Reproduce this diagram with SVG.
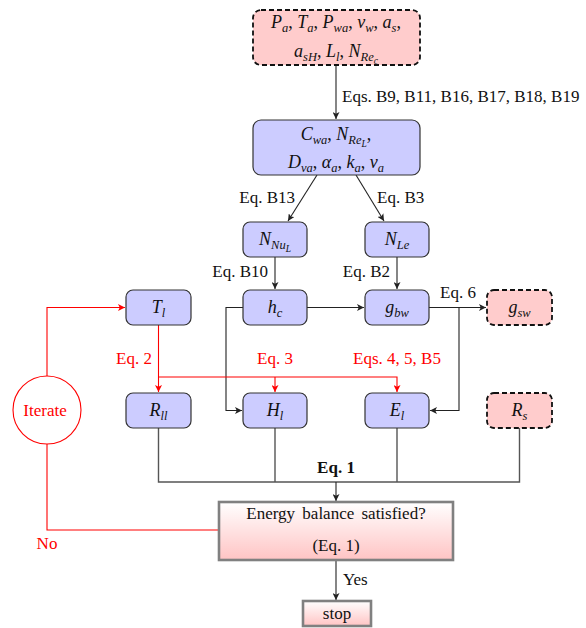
<svg xmlns="http://www.w3.org/2000/svg" width="586" height="628" viewBox="0 0 586 628">
<style>
text{font-family:'Liberation Serif','Times New Roman',Tinos,Times,'DejaVu Serif','Noto Serif',serif}
.m{font-style:italic;font-size:18px;text-anchor:middle;fill:#111}
.s{font-size:12.5px}
.ss{font-size:9.5px}
.n{font-style:normal}
.lab{font-size:17px;fill:#111}
.rl{fill:#ff0000}
.bn{fill:#ccccff;stroke:#333;stroke-width:1.2}
.pn{fill:#ffcccc;stroke:#111;stroke-width:1.8;stroke-dasharray:5 3}
.e{fill:none;stroke:#222;stroke-width:1.1}
.eg{fill:none;stroke:#555;stroke-width:1.4}
.er{fill:none;stroke:#ff0000;stroke-width:1.1}
.gb{fill:url(#grad);stroke:#808080;stroke-width:2.6}
</style>
<defs>
<marker id="ab" viewBox="0 0 10 10" refX="10" refY="5" markerWidth="7" markerHeight="7" markerUnits="userSpaceOnUse" orient="auto"><path d="M0,0 L10,5 L0,10 L2.5,5 z" fill="#222"/></marker>
<marker id="ar" viewBox="0 0 10 10" refX="10" refY="5" markerWidth="7" markerHeight="7" markerUnits="userSpaceOnUse" orient="auto"><path d="M0,0 L10,5 L0,10 L2.5,5 z" fill="#ff0000"/></marker>
<linearGradient id="grad" x1="0" y1="0" x2="0" y2="1"><stop offset="0" stop-color="#ffffff"/><stop offset="1" stop-color="#ffc4c4"/></linearGradient>
</defs>

<g id="connectors">
<line class="e" x1="336" y1="65" x2="336" y2="119" marker-end="url(#ab)"/>
<line class="e" x1="317" y1="175" x2="288" y2="221" marker-end="url(#ab)"/>
<line class="e" x1="356" y1="175" x2="384" y2="221" marker-end="url(#ab)"/>
<line class="e" x1="275" y1="257" x2="275" y2="289" marker-end="url(#ab)"/>
<line class="e" x1="397" y1="257" x2="397" y2="289" marker-end="url(#ab)"/>
<line class="e" x1="307" y1="307.5" x2="364" y2="307.5" marker-end="url(#ab)"/>
<path class="e" d="M243,307.5 H226 V410.5 H242" marker-end="url(#ab)"/>
<line class="e" x1="429" y1="307.5" x2="486" y2="307.5" marker-end="url(#ab)"/>
<path class="e" d="M459,307.5 V410.5 H430" marker-end="url(#ab)"/>
<path class="er" d="M47,376 V307.5 H125" marker-end="url(#ar)"/>
<path class="er" d="M158.5,325 V392" marker-end="url(#ar)"/>
<path class="er" d="M158.5,377 H397 V392" marker-end="url(#ar)"/>
<path class="er" d="M275,377 V392" marker-end="url(#ar)"/>
<path class="eg" d="M158.5,428 V482 H519.5 V428"/>
<path class="eg" d="M275,428 V482"/>
<path class="eg" d="M397,428 V482"/>
<path class="e" d="M336,482 V501" marker-end="url(#ab)"/>
<path class="e" d="M336,560 V600" marker-end="url(#ab)"/>
<path class="er" d="M219,530 H47 V444"/>
<text class="lab" x="342" y="102">Eqs. B9, B11, B16, B17, B18, B19</text>
<text class="lab" x="295" y="203" text-anchor="end">Eq. B13</text>
<text class="lab" x="377" y="203">Eq. B3</text>
<text class="lab" x="268" y="277" text-anchor="end">Eq. B10</text>
<text class="lab" x="390" y="277" text-anchor="end">Eq. B2</text>
<text class="lab" x="440" y="298">Eq. 6</text>
<text class="lab rl" x="152" y="364" text-anchor="end">Eq. 2</text>
<text class="lab rl" x="275" y="364" text-anchor="middle">Eq. 3</text>
<text class="lab rl" x="397" y="364" text-anchor="middle">Eqs. 4, 5, B5</text>
<text class="lab" x="336" y="473" text-anchor="middle" font-weight="bold">Eq. 1</text>
<text class="lab" x="343" y="585">Yes</text>
<text class="lab rl" x="47" y="549" text-anchor="middle">No</text>
</g>

<g id="inputs">
<rect class="pn" x="253" y="10" width="167" height="55" rx="8"/>
<text class="m" x="336" y="28">P<tspan class="s" dy="4">a</tspan><tspan class="n" dy="-4">, </tspan>T<tspan class="s" dy="4">a</tspan><tspan class="n" dy="-4">, </tspan>P<tspan class="s" dy="4">wa</tspan><tspan class="n" dy="-4">, </tspan>v<tspan class="s" dy="4">w</tspan><tspan class="n" dy="-4">, </tspan>a<tspan class="s" dy="4">s</tspan><tspan class="n" dy="-4">,</tspan></text>
<text class="m" x="336" y="57">a<tspan class="s" dy="4">sH</tspan><tspan class="n" dy="-4">, </tspan>L<tspan class="s" dy="4">l</tspan><tspan class="n" dy="-4">, </tspan>N<tspan class="s" dy="4">Re</tspan><tspan class="ss" dy="3">c</tspan></text>
</g>

<g id="props">
<rect class="bn" x="253" y="120" width="167" height="55" rx="8"/>
<text class="m" x="336" y="140">C<tspan class="s" dy="4">wa</tspan><tspan class="n" dy="-4">, </tspan>N<tspan class="s" dy="4">Re</tspan><tspan class="ss" dy="3">L</tspan><tspan class="n" dy="-7">,</tspan></text>
<text class="m" x="336" y="168">D<tspan class="s" dy="4">va</tspan><tspan class="n" dy="-4">, </tspan>α<tspan class="s" dy="4">a</tspan><tspan class="n" dy="-4">, </tspan>k<tspan class="s" dy="4">a</tspan><tspan class="n" dy="-4">, </tspan>ν<tspan class="s" dy="4">a</tspan></text>
</g>

<g id="NNuL">
<rect class="bn" x="243" y="222" width="64" height="35" rx="7"/>
<text class="m" x="275" y="245">N<tspan class="s" dy="4">Nu</tspan><tspan class="ss" dy="3">L</tspan></text>
</g>
<g id="NLe">
<rect class="bn" x="365" y="222" width="64" height="35" rx="7"/>
<text class="m" x="397" y="245">N<tspan class="s" dy="4">Le</tspan></text>
</g>
<g id="Tl">
<rect class="bn" x="126" y="290" width="65" height="35" rx="7"/>
<text class="m" x="158.5" y="313">T<tspan class="s" dy="4">l</tspan></text>
</g>
<g id="hc">
<rect class="bn" x="243" y="290" width="64" height="35" rx="7"/>
<text class="m" x="275" y="313">h<tspan class="s" dy="4">c</tspan></text>
</g>
<g id="gbw">
<rect class="bn" x="365" y="290" width="64" height="35" rx="7"/>
<text class="m" x="397" y="313">g<tspan class="s" dy="4">bw</tspan></text>
</g>
<g id="gsw">
<rect class="pn" x="487" y="290" width="65" height="35" rx="7"/>
<text class="m" x="519.5" y="313">g<tspan class="s" dy="4">sw</tspan></text>
</g>
<g id="Rll">
<rect class="bn" x="126" y="393" width="65" height="35" rx="7"/>
<text class="m" x="158.5" y="416">R<tspan class="s" dy="4">ll</tspan></text>
</g>
<g id="Hl">
<rect class="bn" x="243" y="393" width="64" height="35" rx="7"/>
<text class="m" x="275" y="416">H<tspan class="s" dy="4">l</tspan></text>
</g>
<g id="El">
<rect class="bn" x="365" y="393" width="64" height="35" rx="7"/>
<text class="m" x="397" y="416">E<tspan class="s" dy="4">l</tspan></text>
</g>
<g id="Rs">
<rect class="pn" x="487" y="393" width="65" height="35" rx="7"/>
<text class="m" x="519.5" y="416">R<tspan class="s" dy="4">s</tspan></text>
</g>
<g id="iterate">
<circle cx="47" cy="410" r="34" fill="#ffffff" stroke="#ff0000" stroke-width="1.1"/>
<text class="lab rl" x="45" y="416" text-anchor="middle">Iterate</text>
</g>
<g id="check">
<rect class="gb" x="219" y="502" width="234" height="58"/>
<text class="lab" x="336" y="519" text-anchor="middle" word-spacing="3">Energy balance satisfied?</text>
<text class="lab" x="336" y="551" text-anchor="middle">(Eq. 1)</text>
</g>
<g id="stop">
<rect class="gb" x="303" y="601" width="68" height="25"/>
<text class="lab" x="337" y="619" text-anchor="middle">stop</text>
</g>
</svg>
